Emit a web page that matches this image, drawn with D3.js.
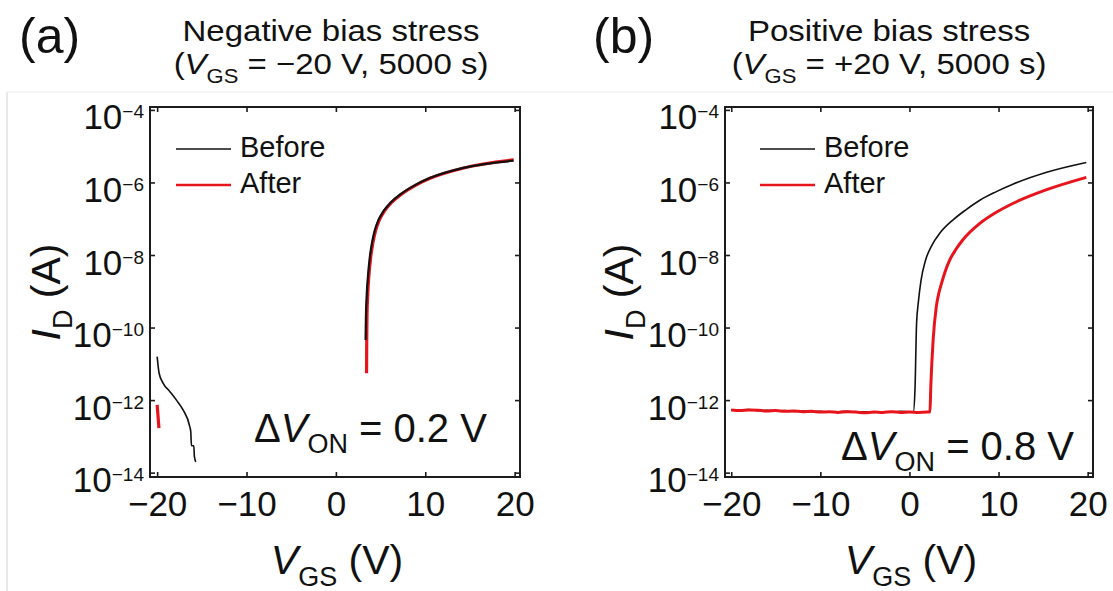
<!DOCTYPE html>
<html>
<head>
<meta charset="utf-8">
<script src="https://cdn.jsdelivr.net/npm/d3@7"></script>
<style>
    body { margin: 0; background: #fff; }
    svg { display: block; }
    text { font-family: 'Liberation Sans', Arial, Helvetica, sans-serif; fill: #111; }
</style>
</head>
<body>
<svg id="chart" width="1113" height="591"></svg>
<script>
// tick values
var xTicks = [-20, -10, 0, 10, 20];
var yTicks = [-4, -6, -8, -10, -12, -14];   // exponents of 10

// (a) negative bias stress, log10(ID / A)
var vgsA_beforeOff = [-20, -19.78, -19.34, -18.59, -17.84, -17.1, -16.35, -16.24, -16.16, -15.9, -15.83, -15.68];
var logA_beforeOff = [-10.8, -11.26, -11.53, -11.76, -12.0, -12.27, -12.73, -12.87, -13.26, -13.26, -13.56, -13.7];
var vgsA_afterOff = [-20, -19.9, -19.8];
var logA_afterOff = [-12.13, -12.45, -12.77];
var vgsA_beforeOn = [3.32, 3.36, 3.45, 3.6, 3.8, 4.05, 4.35, 4.75, 5.3, 6.1, 7.2, 8.8, 10.5, 14.26, 19.86];
var logA_beforeOn = [-10.34, -9.7, -9.1, -8.55, -8.05, -7.65, -7.32, -7.04, -6.8, -6.56, -6.33, -6.08, -5.88, -5.6, -5.4];
var vgsA_afterOn = [3.43, 3.45, 3.48, 3.56, 3.7, 3.9, 4.15, 4.45, 4.85, 5.4, 6.2, 7.3, 8.9, 10.6, 14.3, 19.9];
var logA_afterOn = [-11.26, -10.34, -9.7, -9.1, -8.55, -8.05, -7.65, -7.32, -7.04, -6.8, -6.56, -6.33, -6.08, -5.88, -5.6, -5.38];

// (b) positive bias stress
var vgsB_before = [-20, -19, -18, -17, -16, -15, -14, -13, -12, -11, -10, -9, -8, -7, -6, -5, -4, -3, -2, -1, 0,
    0.43, 0.62, 0.8, 1.0, 1.3, 1.8, 2.5, 3.4, 4.9, 6.3, 7.9, 9.7, 11.6, 15.4, 19.85];
var logB_before = [-12.27, -12.28, -12.26, -12.29, -12.28, -12.3, -12.29, -12.31, -12.3, -12.32, -12.31, -12.33, -12.32, -12.31, -12.33, -12.32, -12.34, -12.32, -12.33, -12.31, -12.32,
    -12.33, -11.72, -9.88, -9.3, -8.7, -8.15, -7.74, -7.4, -7.03, -6.76, -6.49, -6.26, -6.05, -5.72, -5.45];
var vgsB_after = [-20, -19, -18, -17, -16, -15, -14, -13, -12, -11, -10, -9, -8, -7, -6, -5, -4, -3, -2, -1, 0, 1, 2,
    2.3, 2.4, 2.66, 3.0, 3.3, 3.6, 4.0, 4.5, 5.2, 6.0, 7.9, 9.7, 11.6, 15.4, 19.85];
var logB_after = [-12.27, -12.29, -12.27, -12.28, -12.3, -12.29, -12.31, -12.3, -12.32, -12.31, -12.33, -12.32, -12.34, -12.32, -12.33, -12.35, -12.33, -12.34, -12.32, -12.34, -12.33, -12.34, -12.33,
    -12.32, -11.6, -10.34, -9.45, -9.05, -8.78, -8.46, -8.15, -7.85, -7.58, -7.13, -6.83, -6.58, -6.2, -5.86];

var seriesNames = ["Before", "After"];
var seriesColors = ["#111111", "#e8141c"];

var svg = d3.select("#chart");

// faint panel border from the source figure
svg.append("line").attr("x1", 7).attr("x2", 1113).attr("y1", 92).attr("y2", 92)
    .attr("stroke", "#ececec").attr("stroke-width", 1);
svg.append("line").attr("x1", 7).attr("x2", 7).attr("y1", 92).attr("y2", 591)
    .attr("stroke", "#e2e2e2").attr("stroke-width", 1.5);

function drawPanel(p) {
    var x = d3.scaleLinear().domain(p.xDomain).range([p.left, p.right]);
    var y = d3.scaleLog().domain([Math.pow(10, -14.12), Math.pow(10, -3.92)]).range([p.bottom, p.top]);
    var g = svg.append("g");

    var line = d3.line()
        .x(function (d) { return x(d[0]); })
        .y(function (d) { return y(Math.pow(10, d[1])); })
        .curve(d3.curveMonotoneX);

    p.curves.forEach(function (c) {
        g.append("path")
            .datum(d3.zip(c.v, c.i))
            .attr("fill", "none")
            .attr("stroke", seriesColors[c.s])
            .attr("stroke-width", c.w)
            .attr("stroke-linejoin", "round")
            .attr("d", line);
    });

    // frame
    g.append("rect")
        .attr("x", p.left).attr("y", p.top)
        .attr("width", p.right - p.left).attr("height", p.bottom - p.top)
        .attr("fill", "none").attr("stroke", "#1c1c1c").attr("stroke-width", 2);

    // x axes (inward ticks)
    var xb = g.append("g")
        .attr("transform", "translate(0," + p.bottom + ")")
        .call(d3.axisBottom(x).tickValues(xTicks).tickSize(-5).tickPadding(14));
    xb.selectAll("text").style("font-size", "35px").attr("fill", "#111");
    g.append("g")
        .attr("transform", "translate(0," + p.top + ")")
        .call(d3.axisTop(x).tickValues(xTicks).tickSize(-5).tickFormat(""));

    // y axes
    var yl = g.append("g")
        .attr("transform", "translate(" + p.left + ",0)")
        .call(d3.axisLeft(y).tickValues(yTicks.map(function (e) { return Math.pow(10, e); }))
            .tickSize(-5).tickFormat(""));
    g.append("g")
        .attr("transform", "translate(" + p.right + ",0)")
        .call(d3.axisRight(y).tickValues(yTicks.map(function (e) { return Math.pow(10, e); }))
            .tickSize(-5).tickFormat(""));

    g.selectAll(".domain").remove();
    g.selectAll(".tick line").attr("stroke", "#1c1c1c").attr("stroke-width", 1.6);

    yl.selectAll(".tick").each(function (d) {
        var t = d3.select(this).append("text")
            .attr("x", -6).attr("y", 19)
            .attr("text-anchor", "end")
            .style("font-size", "35px");
        t.append("tspan").text("10");
        t.append("tspan").attr("dy", -11).style("font-size", "19px")
            .text("\u2212" + Math.abs(Math.round(Math.log10(d))));
    });

    // panel letter
    svg.append("text").attr("x", p.letterX).attr("y", 53)
        .style("font-size", "50px").text(p.letter);

    // title, two lines (slightly wide lettering as in the source)
    svg.append("text")
        .attr("transform", "translate(" + p.titleX + ",41) scale(1.1,1)")
        .attr("text-anchor", "middle").style("font-size", "30px").text(p.title);
    var t2 = svg.append("text")
        .attr("transform", "translate(" + p.titleX + ",74) scale(1.1,1)")
        .attr("text-anchor", "middle").style("font-size", "30px");
    t2.append("tspan").text("(");
    t2.append("tspan").style("font-style", "italic").text("V");
    t2.append("tspan").attr("dy", 9).style("font-size", "20px").text("GS");
    t2.append("tspan").attr("dy", -9).text(" = " + p.stress + " V, 5000 s)");

    // x axis label
    var xl = svg.append("text").attr("x", (p.left + p.right) / 2 + 2).attr("y", 574)
        .attr("text-anchor", "middle").style("font-size", "41px");
    xl.append("tspan").style("font-style", "italic").text("V");
    xl.append("tspan").attr("dy", 12).style("font-size", "27px").text("GS");
    xl.append("tspan").attr("dy", -12).text(" (V)");

    // y axis label
    var ylab = svg.append("text")
        .attr("transform", "translate(" + p.yLabelX + "," + ((p.top + p.bottom) / 2) + ") rotate(-90)")
        .attr("text-anchor", "middle").style("font-size", "41px");
    ylab.append("tspan").style("font-style", "italic").text("I");
    ylab.append("tspan").attr("dy", 12).style("font-size", "27px").text("D");
    ylab.append("tspan").attr("dy", -12).text(" (A)");

    // legend
    seriesNames.forEach(function (name, k) {
        var ly = 149 + k * 36;
        svg.append("line")
            .attr("x1", p.legendX).attr("x2", p.legendX + 55)
            .attr("y1", ly).attr("y2", ly)
            .attr("stroke", seriesColors[k]).attr("stroke-width", k === 0 ? 1.6 : 2.4);
        svg.append("text").attr("x", p.legendX + 64).attr("y", ly + 8)
            .style("font-size", "29px").text(name);
    });

    // delta V_ON note
    var dv = svg.append("text").attr("x", p.noteX).attr("y", p.noteY)
        .attr("text-anchor", p.noteAnchor).style("font-size", "40px");
    dv.append("tspan").text("\u0394");
    dv.append("tspan").style("font-style", "italic").text("V");
    dv.append("tspan").attr("dy", 11).style("font-size", "27px").text("ON");
    dv.append("tspan").attr("dy", -11).text(" = " + p.delta + " V");
}

drawPanel({
    left: 150, right: 520, top: 107, bottom: 477,
    xDomain: [-20.8, 20.6],
    letter: "(a)", letterX: 19,
    title: "Negative bias stress", stress: "\u221220", titleX: 331,
    yLabelX: 60, legendX: 176,
    noteX: 254, noteY: 442, noteAnchor: "start", delta: "0.2",
    curves: [
        { v: vgsA_afterOn, i: logA_afterOn, s: 1, w: 3.2 },
        { v: vgsA_beforeOn, i: logA_beforeOn, s: 0, w: 2.2 },
        { v: vgsA_beforeOff, i: logA_beforeOff, s: 0, w: 1.6 },
        { v: vgsA_afterOff, i: logA_afterOff, s: 1, w: 3.2 }
    ]
});

drawPanel({
    left: 725, right: 1093, top: 107, bottom: 477,
    xDomain: [-20.7, 20.6],
    letter: "(b)", letterX: 593,
    title: "Positive bias stress", stress: "+20", titleX: 889,
    yLabelX: 633, legendX: 760,
    noteX: 1074, noteY: 460, noteAnchor: "end", delta: "0.8",
    curves: [
        { v: vgsB_before, i: logB_before, s: 0, w: 1.6 },
        { v: vgsB_after, i: logB_after, s: 1, w: 3.0 }
    ]
});
</script>
</body>
</html>
